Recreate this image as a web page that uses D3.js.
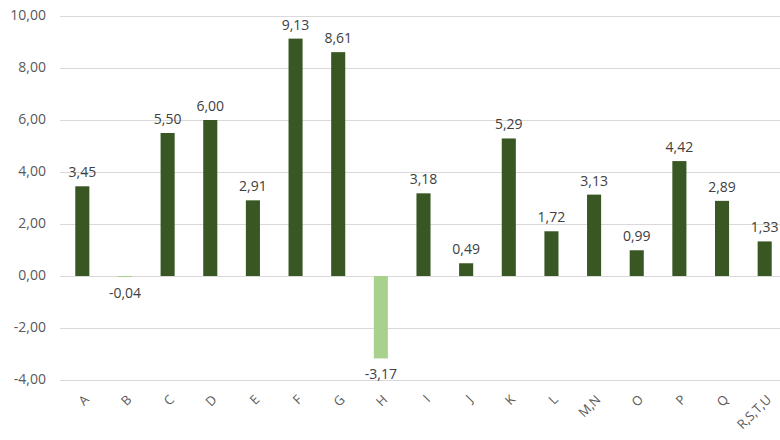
<!DOCTYPE html>
<html lang="id">
<head>
  <meta charset="UTF-8">
  <title>chart</title>
  <style>
    * { padding: 0; margin: 0; }
    html, body { width: 780px; height: 440px; overflow: hidden; background: #fff; }
    text { font-family: "Open Sans", "Noto Sans", sans-serif; }
  </style>
</head>
<body>
  <svg id="chart" width="780" height="440"></svg>
  <script src="https://cdn.jsdelivr.net/npm/d3@7"></script>
  <script>
    const categories = ['A', 'B', 'C', 'D', 'E', 'F', 'G', 'H', 'I', 'J', 'K', 'L', 'M,N', 'O', 'P', 'Q', 'R,S,T,U']
    const values = [3.45, -0.04, 5.50, 6.00, 2.91, 9.13, 8.61, -3.17, 3.18, 0.49, 5.29, 1.72, 3.13, 0.99, 4.42, 2.89, 1.33]
    const yTicks = [-4, -2, 0, 2, 4, 6, 8, 10]

    const svg = d3.select('#chart')
    // comma decimal, plain hyphen for minus
    const fmt = v => d3.format('.2f')(v).replace('.', ',').replace('\u2212', '-')

    // y: 10 sits at ~16px, -4 at ~380px
    const y = d3.scaleLinear().domain([-4, 10]).range([380, 16])
    const x = d3.scaleBand().domain(categories).range([61, 786]).paddingInner(0.67).paddingOuter(0.335)

    // gridlines
    svg.append('g').selectAll('line').data(yTicks).join('line')
      .attr('x1', 60).attr('x2', 780)
      .attr('y1', d => y(d) + 0.5).attr('y2', d => y(d) + 0.5)
      .attr('stroke', '#d9d9d9').attr('stroke-width', 1)

    // y axis labels
    svg.append('g').selectAll('text').data(yTicks).join('text')
      .attr('x', 46).attr('y', d => y(d))
      .attr('text-anchor', 'end').attr('dominant-baseline', 'middle')
      .style('font-size', '14px').attr('fill', '#595959')
      .text(d => fmt(d))

    // bars
    svg.append('g').selectAll('rect').data(values).join('rect')
      .attr('x', (d, i) => x(categories[i]))
      .attr('width', x.bandwidth())
      .attr('y', d => y(Math.max(0, d)))
      .attr('height', d => Math.max(1, Math.abs(y(d) - y(0))))
      .attr('fill', d => d < 0 ? '#a9d18e' : '#385723')

    // value labels
    svg.append('g').selectAll('text').data(values).join('text')
      .attr('x', (d, i) => x(categories[i]) + x.bandwidth() / 2)
      .attr('y', d => d < 0 ? y(d) + 21 : y(d) - 9)
      .attr('text-anchor', 'middle')
      .style('font-size', '14px').attr('fill', '#404040')
      .text(d => fmt(d))

    // category labels, rotated
    svg.append('g').selectAll('text').data(categories).join('text')
      .attr('transform', d => `translate(${x(d) + x.bandwidth() / 2 + 5}, 398) rotate(-45)`)
      .attr('text-anchor', 'end').attr('dominant-baseline', 'middle')
      .style('font-size', '13px').attr('fill', '#595959')
      .text(d => d)
  </script>
</body>
</html>
